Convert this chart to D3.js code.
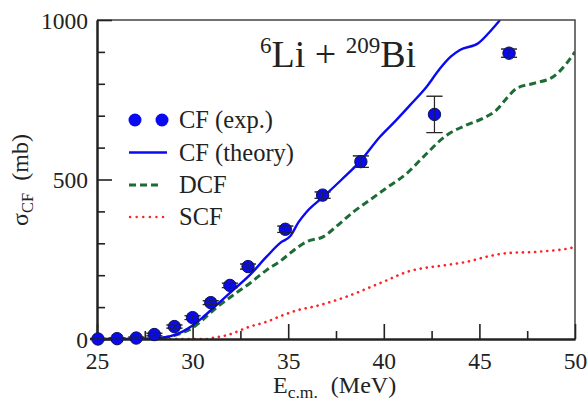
<!DOCTYPE html>
<html>
<head>
<meta charset="utf-8">
<script src="https://cdn.jsdelivr.net/npm/d3@7"></script>
<style>
  html, body { margin: 0; padding: 0; background: #fff; }
</style>
</head>
<body>
<svg id="chart" width="587" height="403"></svg>
<script>
// Measured complete-fusion cross sections (MeV, mb)
const expEnergy = [25.05, 26.05, 27.05, 28.0, 29.05, 30.0, 30.95, 31.95, 32.9, 34.85, 36.8, 38.8, 42.65, 46.55];
const expSigma  = [0, 1, 3, 14, 39, 67, 114, 168, 227, 344, 451, 556, 704, 896];
const expError  = [2, 2, 3, 4, 5, 6, 6, 7, 8, 10, 10, 18, 57, 13];

// Calculated total complete fusion
const cfEnergy = [25, 27, 28, 28.8, 29.5, 30, 30.5, 31.26, 32.13, 33.0, 33.87, 34.6, 35.1, 35.55, 35.97, 36.8, 37.8, 38.75, 39.8, 40.6, 41.37, 42.24, 42.94, 43.5, 43.98, 44.94, 45.5, 46.08];
const cfSigma  = [0, 0, 2, 8, 24, 42, 66, 107, 154, 201, 258, 302, 322, 367, 399, 444, 500, 556, 634, 683, 733, 791, 848, 885, 906, 927, 960, 1000];

// Direct complete fusion
const dcfEnergy = [25, 27.5, 28.5, 29.2, 30, 30.6, 31.26, 32.13, 33.0, 33.87, 34.6, 35.53, 35.97, 36.84, 37.6, 38.4, 39.28, 40.2, 41.2, 42.07, 43.29, 44.34, 45.2, 45.9, 46.5, 46.95, 47.82, 48.86, 49.56, 50];
const dcfSigma  = [0, 0, 4, 14, 35, 64, 99, 138, 175, 216, 245, 289, 305, 321, 357, 398, 436, 476, 519, 571, 639, 671, 692, 718, 760, 786, 801, 822, 864, 900];

// Sequential complete fusion
const scfEnergy = [25, 30.7, 31.1, 31.8, 33.0, 33.87, 34.74, 35.53, 36.3, 38.06, 39.8, 41.54, 42.07, 43.3, 44.34, 45.38, 46.43, 48.17, 49.9, 50];
const scfSigma  = [0, 0, 4, 12, 39, 54, 75, 91, 101, 133, 175, 216, 222, 232, 242, 258, 269, 274, 287, 289];

const xTicks = [25, 30, 35, 40, 45, 50];
const xMinorTicks = [27.5, 32.5, 37.5, 42.5, 47.5];
const yTicks = [0, 500, 1000];
const yMinorTicks = [100, 200, 300, 400, 600, 700, 800, 900];

const legendLabels = ["CF (exp.)", "CF (theory)", "DCF", "SCF"];

const blue = "#0a0af0";
const green = "#1d6b35";
const red = "#ff2222";
const FONT = "Liberation Serif";

const svg = d3.select("#chart");
const margin = { left: 97, right: 12, top: 20, bottom: 64 };
const W = 587, H = 403;

const x = d3.scaleLinear().domain([25, 50]).range([margin.left, W - margin.right]);
const y = d3.scaleLinear().domain([0, 1000]).range([H - margin.bottom, margin.top]);

svg.append("defs").append("clipPath").attr("id", "plotClip")
  .append("rect")
  .attr("x", x(25)).attr("y", y(1000))
  .attr("width", x(50) - x(25)).attr("height", y(0) - y(1000));

const plot = svg.append("g").attr("clip-path", "url(#plotClip)");

function curve(E, S, color, width, dash, cap) {
  const pts = E.map((e, i) => [e, S[i]]);
  const line = d3.line().x(d => x(d[0])).y(d => y(d[1])).curve(d3.curveMonotoneX);
  plot.append("path")
    .datum(pts)
    .attr("d", line)
    .attr("fill", "none")
    .attr("stroke", color)
    .attr("stroke-width", width)
    .attr("stroke-dasharray", dash)
    .attr("stroke-linecap", cap);
}

curve(scfEnergy, scfSigma, red, 2.6, "0.1,6", "round");
curve(dcfEnergy, dcfSigma, green, 3, "7,4", "butt");
curve(cfEnergy, cfSigma, blue, 2.4, null, "butt");

// Frame: top and right edges
svg.append("path")
  .attr("d", `M${x(25)},${y(1000)}H${x(50)}V${y(0)}`)
  .attr("fill", "none").attr("stroke", "#444").attr("stroke-width", 1.5);

// Axes with inward ticks
const xAxis = svg.append("g").attr("transform", `translate(0,${y(0)})`)
  .call(d3.axisBottom(x).tickValues(xTicks).tickSize(-15).tickSizeOuter(0).tickFormat(d3.format("d")));
const xMinor = svg.append("g").attr("transform", `translate(0,${y(0)})`)
  .call(d3.axisBottom(x).tickValues(xMinorTicks).tickSize(-8).tickSizeOuter(0).tickFormat(""));
const yAxis = svg.append("g").attr("transform", `translate(${x(25)},0)`)
  .call(d3.axisLeft(y).tickValues(yTicks).tickSize(-15).tickSizeOuter(0).tickFormat(d3.format("d")));
const yMinor = svg.append("g").attr("transform", `translate(${x(25)},0)`)
  .call(d3.axisLeft(y).tickValues(yMinorTicks).tickSize(-8).tickSizeOuter(0).tickFormat(""));

[xAxis, xMinor, yAxis, yMinor].forEach(g => {
  g.attr("font-family", FONT).attr("font-size", 23.5);
  g.select(".domain").attr("stroke", "#222").attr("stroke-width", 2);
  g.selectAll(".tick line").attr("stroke", "#222").attr("stroke-width", 1.6);
});
xAxis.selectAll(".tick text")
  .attr("font-family", FONT)
  .attr("y", 30).attr("dy", null).attr("fill", "#222");
yAxis.selectAll(".tick text")
  .attr("font-family", FONT)
  .attr("x", -9).attr("dy", "0.34em").attr("fill", "#222");

// Experimental points with error bars
const pts = expEnergy.map((e, i) => ({ e, s: expSigma[i], err: expError[i] }));
function errorBars(g) {
  pts.forEach(p => {
    const cx = x(p.e), y1 = y(p.s + p.err), y2 = y(p.s - p.err);
    g.append("line").attr("x1", cx).attr("x2", cx).attr("y1", y1).attr("y2", y2);
    g.append("line").attr("x1", cx - 8).attr("x2", cx + 8).attr("y1", y1).attr("y2", y1);
    g.append("line").attr("x1", cx - 8).attr("x2", cx + 8).attr("y1", y2).attr("y2", y2);
  });
}
errorBars(svg.append("g").attr("stroke", "#333").attr("stroke-width", 1.2));
svg.append("g").selectAll("circle").data(pts).join("circle")
  .attr("cx", d => x(d.e)).attr("cy", d => y(d.s)).attr("r", 6.2)
  .attr("fill", blue).attr("stroke", "#101050").attr("stroke-width", 1);
// caps stay visible across the markers
errorBars(svg.append("g").attr("stroke", "#222").attr("stroke-width", 1).attr("opacity", 0.75));

const textStyle = sel => sel.attr("font-family", FONT).attr("fill", "#222");

// Title
const title = svg.append("text").attr("x", 260).attr("y", 67).attr("font-size", 38).call(textStyle);
title.append("tspan").text("6").attr("dy", -14).attr("font-size", 23);
title.append("tspan").text("Li + ").attr("dy", 14);
title.append("tspan").text("209").attr("dy", -14).attr("font-size", 23);
title.append("tspan").text("Bi").attr("dy", 14);

// Legend
const lg = svg.append("g");
const rowY = [120, 152.5, 185, 217];
lg.selectAll("circle.leg").data([135, 162]).join("circle")
  .attr("cx", d => d).attr("cy", rowY[0]).attr("r", 6.5)
  .attr("fill", blue);
lg.append("line").attr("x1", 129).attr("x2", 167).attr("y1", rowY[1]).attr("y2", rowY[1])
  .attr("stroke", blue).attr("stroke-width", 2.4);
lg.append("line").attr("x1", 129).attr("x2", 162).attr("y1", rowY[2]).attr("y2", rowY[2])
  .attr("stroke", green).attr("stroke-width", 3).attr("stroke-dasharray", "7,4");
lg.append("line").attr("x1", 130).attr("x2", 166).attr("y1", rowY[3]).attr("y2", rowY[3])
  .attr("stroke", red).attr("stroke-width", 2.4).attr("stroke-dasharray", "0.1,6.5").attr("stroke-linecap", "round");
lg.selectAll("text").data(legendLabels).join("text")
  .attr("x", 179).attr("y", (d, i) => rowY[i] + 8)
  .attr("font-size", 24.5).call(textStyle).text(d => d);

// Axis titles
const xl = svg.append("text").attr("x", 273).attr("y", 393).attr("font-size", 24).call(textStyle);
xl.append("tspan").text("E");
xl.append("tspan").text("c.m.").attr("dy", 5).attr("font-size", 17.5);
xl.append("tspan").text("(MeV)").attr("dy", -5).attr("dx", 13);

const yl = svg.append("text")
  .attr("transform", "translate(28,180) rotate(-90)")
  .attr("text-anchor", "middle").attr("font-size", 24).call(textStyle);
yl.append("tspan").text("σ");
yl.append("tspan").text("CF").attr("dy", 5).attr("font-size", 16.5);
yl.append("tspan").text("(mb)").attr("dy", -5).attr("dx", 12);
</script>
</body>
</html>
